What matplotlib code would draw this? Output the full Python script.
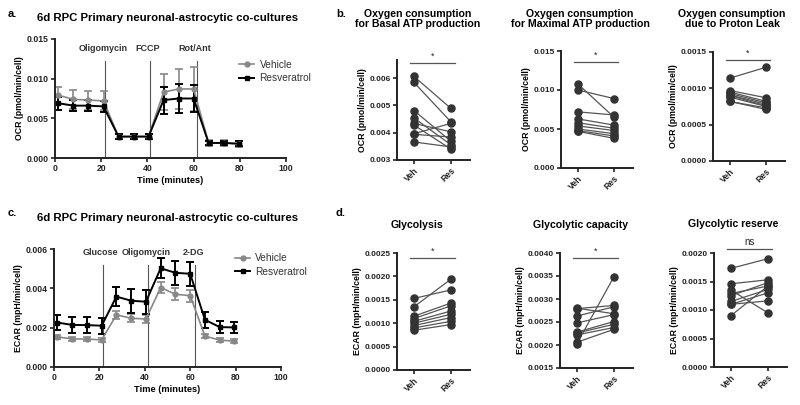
import numpy as np
import matplotlib
matplotlib.use("Agg")
import matplotlib.pyplot as plt
from matplotlib.lines import Line2D

plt.rcParams['font.family'] = ['Liberation Sans', 'DejaVu Sans']
plt.rcParams['font.weight'] = 'bold'

# ---------------- data ----------------
time_min = [1.5, 8, 14.5, 21, 27.5, 34, 40.5, 47, 53.5, 60, 66.5, 73, 79.5]

ocr_veh = [0.0079, 0.0074, 0.0073, 0.0072, 0.0027, 0.0027, 0.0027, 0.0083, 0.0087, 0.0087, 0.0019, 0.0019, 0.0018]
ocr_veh_err = [0.0011, 0.0012, 0.0012, 0.0012, 0.0003, 0.0003, 0.0003, 0.0023, 0.0025, 0.0028, 0.0004, 0.0004, 0.0004]
ocr_res = [0.0069, 0.0066, 0.0066, 0.0065, 0.0027, 0.0027, 0.0027, 0.0073, 0.0075, 0.0075, 0.0019, 0.0019, 0.0018]
ocr_res_err = [0.0008, 0.0007, 0.0007, 0.0007, 0.0003, 0.0003, 0.0003, 0.0017, 0.0018, 0.0017, 0.0003, 0.0003, 0.0003]

ecar_veh = [0.00153, 0.00143, 0.00142, 0.00138, 0.00265, 0.00248, 0.00244, 0.00404, 0.00370, 0.00363, 0.00157, 0.00137, 0.00131]
ecar_veh_err = [0.0001, 0.0001, 0.0001, 0.0001, 0.0002, 0.0002, 0.0002, 0.0003, 0.0003, 0.0003, 0.0001, 0.0001, 0.0001]
ecar_res = [0.00226, 0.00214, 0.00213, 0.00210, 0.00358, 0.00337, 0.00332, 0.00502, 0.00479, 0.00474, 0.00240, 0.00203, 0.00201]
ecar_res_err = [0.0004, 0.0004, 0.0004, 0.0004, 0.0005, 0.0006, 0.0006, 0.0005, 0.0006, 0.0006, 0.0004, 0.0003, 0.0003]

ocr_injections = [("Oligomycin", 21.8), ("FCCP", 41.0), ("Rot/Ant", 61.3)]
ecar_injections = [("Glucose", 21.5), ("Oligomycin", 41.5), ("2-DG", 62.3)]

groups = ["Veh", "Res"]

basal_veh = [0.00606, 0.00584, 0.00481, 0.00454, 0.00434, 0.00428, 0.00396, 0.00394, 0.00366]
basal_res = [0.00489, 0.00440, 0.00369, 0.00356, 0.00403, 0.00340, 0.00434, 0.00384, 0.00348]

maximal_veh = [0.0108, 0.0100, 0.0072, 0.0063, 0.0058, 0.0054, 0.0050, 0.0048, 0.0047]
maximal_res = [0.0065, 0.0089, 0.0068, 0.0055, 0.0051, 0.0048, 0.0044, 0.0041, 0.0038]

leak_veh = [0.00114, 0.00097, 0.00095, 0.00093, 0.00091, 0.00090, 0.00088, 0.00082, 0.00082]
leak_res = [0.00129, 0.00087, 0.00082, 0.00080, 0.00078, 0.00076, 0.00075, 0.00073, 0.00071]

glyco_veh = [0.00153, 0.00135, 0.00115, 0.00110, 0.00104, 0.00100, 0.00095, 0.00090, 0.00085]
glyco_res = [0.00171, 0.00194, 0.00143, 0.00137, 0.00126, 0.00119, 0.00112, 0.00104, 0.00097]

capacity_veh = [0.00280, 0.00279, 0.00263, 0.00248, 0.00228, 0.00226, 0.00222, 0.00206, 0.00203]
capacity_res = [0.00268, 0.00286, 0.00283, 0.00266, 0.00251, 0.00245, 0.00238, 0.00234, 0.00348]

reserve_veh = [0.00173, 0.00146, 0.00135, 0.00129, 0.00125, 0.00115, 0.00110, 0.00110, 0.00090]
reserve_res = [0.00190, 0.00153, 0.00095, 0.00142, 0.00148, 0.00136, 0.00130, 0.00116, 0.00142]

DARK = '#222222'
GREY = '#888888'


def px_axes(fig, left, right, top, bottom):
    W, H = 800.0, 405.0
    return fig.add_axes([left / W, 1 - bottom / H, (right - left) / W, (bottom - top) / H])


def prism_style(ax, labelsize=6):
    for s in ['top', 'right']:
        ax.spines[s].set_visible(False)
    for s in ['left', 'bottom']:
        ax.spines[s].set_linewidth(1.4)
        ax.spines[s].set_color(DARK)
    ax.tick_params(direction='out', length=3, width=1.2, labelsize=labelsize, pad=1.5, colors=DARK)
    for lab in ax.get_xticklabels() + ax.get_yticklabels():
        lab.set_fontweight('bold')


def timecourse(ax, veh, veh_err, res, res_err, injections, ylim, yticks, fmt, ylabel,
               line_top, label_y, leg_y):
    ax.errorbar(time_min, veh, yerr=veh_err, color=GREY, marker='o', ms=3.5, lw=1.2,
                capsize=2.8, elinewidth=1.2, capthick=1.2)
    ax.errorbar(time_min, res, yerr=res_err, color='black', marker='s', ms=3.5, lw=1.4,
                capsize=2.8, elinewidth=1.4, capthick=1.4)
    for name, x in injections:
        ax.plot([x, x], [ylim[0], line_top], color='#555555', lw=0.8, zorder=0)
        ax.text(x - 1, label_y, name, ha='center', va='center', fontsize=6.5, color='#333333')
    ax.set_xlim(0, 100)
    ax.set_ylim(*ylim)
    ax.set_xticks([0, 20, 40, 60, 80, 100])
    ax.set_yticks(yticks)
    ax.set_yticklabels([fmt.format(v) for v in yticks])
    ax.set_xlabel('Time (minutes)', fontsize=6.7, fontweight='bold', labelpad=2)
    ax.set_ylabel(ylabel, fontsize=6.3, fontweight='bold', labelpad=2)
    prism_style(ax, 6.2)
    handles = [Line2D([], [], color=GREY, marker='o', ms=3.5, lw=1.2),
               Line2D([], [], color='black', marker='s', ms=3.5, lw=1.4)]
    leg = ax.legend(handles, ['Vehicle', 'Resveratrol'], loc='upper left',
                    bbox_to_anchor=(0.78, leg_y), frameon=False, fontsize=7.3,
                    handlelength=1.5, handletextpad=0.5, labelspacing=0.35, borderaxespad=0)
    for t in leg.get_texts():
        t.set_fontweight('normal')
        t.set_color('#333333')


def paired(ax, veh, res, ylim, yticks, fmt, ylabel, bar_y, sig):
    for a, b in zip(veh, res):
        ax.plot([0, 1], [a, b], color='#555555', lw=0.9, zorder=1)
    ax.scatter([0] * len(veh), veh, s=26, color='#333333', zorder=2)
    ax.scatter([1] * len(res), res, s=26, color='#333333', zorder=2)
    ax.plot([-0.1, 1.1], [bar_y, bar_y], color='#555555', lw=0.9, clip_on=False)
    span = ylim[1] - ylim[0]
    ax.text(0.5, bar_y + span * 0.02, sig, ha='center', va='bottom',
            fontsize=7 if sig == 'ns' else 6.5, fontweight='normal', color='#222222')
    ax.set_xlim(-0.46, 1.52)
    ax.set_ylim(*ylim)
    ax.set_xticks([0, 1])
    ax.set_xticklabels(groups, rotation=45, ha='right', rotation_mode='anchor')
    ax.set_yticks(yticks)
    ax.set_yticklabels([fmt.format(v) for v in yticks])
    ax.set_ylabel(ylabel, fontsize=6.3, fontweight='bold', labelpad=2)
    prism_style(ax, 6)
    ax.tick_params(axis='x', labelsize=6.2)


def title(x, y, s, size=7.6):
    fig.text(x / 800, 1 - y / 405, s, ha='center', va='center', fontsize=size,
             fontweight='bold', linespacing=1.1)


fig = plt.figure(figsize=(8, 4.05), dpi=100)

# ---- a ----
ax_a = px_axes(fig, 55, 286, 39, 158)
timecourse(ax_a, ocr_veh, ocr_veh_err, ocr_res, ocr_res_err, ocr_injections,
           (0, 0.015), [0, 0.005, 0.010, 0.015], '{:.3f}', 'OCR (pmol/min/cell)',
           0.0122, 0.0138, 0.86)
title(168, 18, '6d RPC Primary neuronal-astrocytic co-cultures', 8.2)
fig.text(8 / 800, 1 - 14 / 405, 'a.', ha='left', va='center', fontsize=8, fontweight='bold')

# ---- c ----
ax_c = px_axes(fig, 54, 281, 249, 367)
timecourse(ax_c, ecar_veh, ecar_veh_err, ecar_res, ecar_res_err, ecar_injections,
           (0, 0.006), [0, 0.002, 0.004, 0.006], '{:.3f}', 'ECAR (mpH/min/cell)',
           0.0052, 0.0058, 1.0)
title(168, 218, '6d RPC Primary neuronal-astrocytic co-cultures', 8.2)
fig.text(8 / 800, 1 - 213 / 405, 'c.', ha='left', va='center', fontsize=8, fontweight='bold')

# ---- b ----
ax = px_axes(fig, 397, 470, 60, 160)
paired(ax, basal_veh, basal_res, (0.003, 0.00666), [0.003, 0.004, 0.005, 0.006], '{:.3f}',
       'OCR (pmol/min/cell)', 0.00655, '*')
title(418, 19, 'Oxygen consumption\nfor Basal ATP production')

ax = px_axes(fig, 561, 633, 51, 168)
paired(ax, maximal_veh, maximal_res, (0, 0.015), [0, 0.005, 0.010, 0.015], '{:.3f}',
       'OCR (pmol/min/cell)', 0.0136, '*')
title(580, 19, 'Oxygen consumption\nfor Maximal ATP production')

ax = px_axes(fig, 713, 785, 52, 161)
paired(ax, leak_veh, leak_res, (0, 0.0015), [0, 0.0005, 0.0010, 0.0015], '{:.4f}',
       'OCR (pmol/min/cell)', 0.00139, '*')
title(732, 19, 'Oxygen consumption\ndue to Proton Leak')

fig.text(336 / 800, 1 - 14 / 405, 'b.', ha='left', va='center', fontsize=8, fontweight='bold')

# ---- d ----
ax = px_axes(fig, 397, 470, 253, 370)
paired(ax, glyco_veh, glyco_res, (0, 0.0025), [0, 0.0005, 0.0010, 0.0015, 0.0020, 0.0025], '{:.4f}',
       'ECAR (mpH/min/cell)', 0.00239, '*')
title(417, 225, 'Glycolysis')

ax = px_axes(fig, 560, 633, 253, 368)
paired(ax, capacity_veh, capacity_res, (0.0015, 0.0040), [0.0015, 0.0020, 0.0025, 0.0030, 0.0035, 0.0040],
       '{:.4f}', 'ECAR (mpH/min/cell)', 0.00389, '*')
title(581, 225, 'Glycolytic capacity')

ax = px_axes(fig, 714, 787, 253, 367)
paired(ax, reserve_veh, reserve_res, (0, 0.0020), [0, 0.0005, 0.0010, 0.0015, 0.0020], '{:.4f}',
       'ECAR (mpH/min/cell)', 0.00207, 'ns')
title(733, 224, 'Glycolytic reserve')

fig.text(336 / 800, 1 - 213 / 405, 'd.', ha='left', va='center', fontsize=8, fontweight='bold')

fig.savefig('out.png', dpi=100, facecolor='white')
